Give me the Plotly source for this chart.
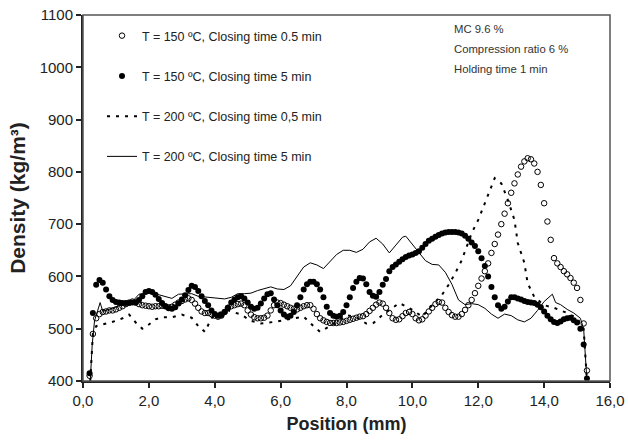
import numpy as np
import plotly.graph_objects as go

# ---- data ----
pos_grid = np.round(np.arange(0.2, 15.35, 0.1), 1)

dens_150_05 = [410, 490, 520, 528, 532, 533, 535, 535, 537, 540,
               543, 547, 550, 552, 550, 547, 545, 544, 543, 542,
               543, 543, 544, 543, 541, 542, 546, 550, 553, 556,
               558, 555, 548, 540, 533, 530, 530, 528, 525, 523,
               525, 532, 540, 543, 545, 547, 548, 545, 535, 527,
               522, 520, 520, 521, 525, 535, 545, 550, 549, 546,
               543, 540, 538, 537, 540, 543, 545, 545, 538, 528,
               520, 516, 513, 511, 511, 511, 512, 513, 515, 517,
               519, 521, 523, 524, 528, 534, 540, 546, 550, 548,
               540, 530, 520, 517, 518, 524, 530, 532, 528, 520,
               516, 518, 525, 533, 540, 547, 551, 550, 540, 532,
               526, 523, 523, 528, 536, 545, 555, 568, 582, 596,
               610, 625, 645, 662, 680, 700, 720, 740, 760, 778,
               795, 810, 820, 826, 824, 816, 800, 775, 740, 705,
               670, 635, 625, 618, 610, 604, 597, 588, 578, 555,
               510, 420]

dens_150_5 = [415, 530, 584, 593, 588, 575, 562, 555, 551, 550,
              549, 549, 549, 550, 550, 555, 562, 570, 572, 570,
              565, 557, 549, 543, 539, 538, 541, 548, 556, 564,
              574, 582, 580, 572, 562, 553, 545, 535, 528, 525,
              526, 532, 540, 550, 556, 560, 562, 558, 550, 542,
              538, 540, 548, 558, 566, 568, 556, 545, 535, 527,
              523, 525, 532, 545, 560, 575, 585, 590, 590, 585,
              575, 560, 542, 530, 525, 523, 525, 532, 545, 560,
              578, 590, 597, 596, 585, 570, 563, 561, 570, 584,
              595, 610, 618, 623, 628, 633, 637, 640, 642, 645,
              648, 655, 662, 668, 672, 676, 679, 682, 684, 685,
              685, 685, 684, 682, 678, 672, 665, 658, 648, 635,
              620, 600, 580, 560, 545, 538, 542, 552, 560, 560,
              558, 556, 553, 551, 550, 549, 546, 541, 533, 525,
              518, 513, 511, 514, 518, 520, 521, 516, 512, 500,
              470, 405]

pos_200_05 = [0.22, 0.3, 0.4, 0.6, 0.8, 1.0, 1.2, 1.4, 1.6, 1.8, 2.0, 2.2, 2.4,
              2.7, 3.0, 3.3, 3.5, 3.7, 3.9, 4.1, 4.4, 4.8, 5.1, 5.4, 5.8, 6.2,
              6.7, 7.0, 7.2, 7.5, 8.0, 8.3, 8.6, 8.8, 9.1, 9.4, 9.6, 9.9, 10.3,
              10.6, 10.9, 11.1, 11.3, 11.5, 11.8, 12.0, 12.2, 12.4, 12.5, 12.7,
              12.9, 13.1, 13.2, 13.4, 13.5, 13.7, 14.0, 14.3, 14.7, 15.0, 15.2,
              15.3]
dens_200_05 = [400, 490, 505, 508, 512, 515, 520, 527, 512, 500, 508, 518, 522,
               522, 527, 521, 505, 494, 520, 530, 535, 527, 515, 510, 513, 518,
               523, 505, 494, 505, 526, 522, 510, 510, 527, 540, 549, 540, 523,
               545, 565, 584, 606, 631, 683, 708, 740, 771, 788, 778,
               746, 708, 664, 626, 587, 561, 545, 540, 530, 520, 500,
               400]

pos_200_5 = [0.22, 0.28, 0.35, 0.45, 0.52, 0.6, 0.7, 0.9, 1.1, 1.3, 1.5, 1.7,
             1.9, 2.1, 2.3, 2.5, 2.7, 2.9, 3.1, 3.3, 3.5, 3.7, 3.9, 4.1, 4.3,
             4.5, 4.7, 4.9, 5.1, 5.3, 5.5, 5.7, 5.9, 6.1, 6.3, 6.5, 6.7, 6.9,
             7.1, 7.3, 7.5, 7.7, 7.9, 8.1, 8.3, 8.5, 8.7, 8.9, 9.1, 9.3, 9.5,
             9.7, 9.8, 10.0, 10.2, 10.4, 10.6, 10.8, 11.0, 11.2, 11.4, 11.6,
             11.8, 12.0, 12.2, 12.4, 12.6, 12.8, 13.0, 13.2, 13.4, 13.6, 13.8,
             14.0, 14.25, 14.35, 14.5, 14.7, 14.9, 15.1, 15.2, 15.25, 15.3]
dens_200_5 = [400, 470, 515, 535, 550, 533, 535, 540, 543, 547, 552, 566,
              568, 569, 565, 562, 558, 566, 566, 567, 562, 561, 560, 558, 557,
              560, 567, 567, 568, 573, 576, 580, 576, 575, 582, 600, 618, 626,
              622, 615, 628, 642, 650, 650, 646, 652, 666, 673, 662, 645, 660,
              675, 677, 662, 645, 630, 623, 622, 608, 585, 555, 546,
              548, 546, 539, 528, 520, 528, 525, 517, 513, 520, 535,
              552, 566, 550, 546, 537, 530, 520, 500, 455, 400]

x_tickvals = [0, 2, 4, 6, 8, 10, 12, 14, 16]
x_ticktext = ["0,0", "2,0", "4,0", "6,0", "8,0", "10,0", "12,0", "14,0", "16,0"]
y_tickvals = [400, 500, 600, 700, 800, 900, 1000, 1100]

names = ["T = 150 ºC, Closing time 0.5 min",
         "T = 150 ºC, Closing time 5 min",
         "T = 200 ºC, Closing time 0,5 min",
         "T = 200 ºC, Closing time 5 min"]
notes = ["MC 9.6 %", "Compression ratio 6 %", "Holding time 1 min"]

FONT = "Arial, Liberation Sans, sans-serif"

fig = go.Figure()
fig.add_trace(go.Scatter(x=pos_grid, y=dens_150_05, mode="markers", name=names[0],
                         legendgroup="a",
                         marker=dict(symbol="circle-open", size=5.5, color="black",
                                     line=dict(width=1, color="black"))))
fig.add_trace(go.Scatter(x=pos_grid, y=dens_150_5, mode="markers", name=names[1],
                         legendgroup="b",
                         marker=dict(symbol="circle", size=6, color="black")))
fig.add_trace(go.Scatter(x=pos_200_05, y=dens_200_05, mode="lines", name=names[2],
                         legendgroup="c",
                         line=dict(color="black", width=2, dash="3px,6px")))
fig.add_trace(go.Scatter(x=pos_200_5, y=dens_200_5, mode="lines", name=names[3],
                         legendgroup="d",
                         line=dict(color="black", width=1)))

for i, t in enumerate(notes):
    fig.add_annotation(x=(452 - 83) / 527, y=1 - (29 + 20 * i - 15) / 366,
                       xref="paper", yref="paper", xanchor="left", yanchor="middle",
                       text=t, showarrow=False,
                       font=dict(family=FONT, size=11.3, color="#333"))

# frame (top / right borders)
fig.add_shape(type="rect", xref="paper", yref="paper", x0=0, y0=0, x1=1, y1=1,
              line=dict(color="#555", width=1.5), layer="above")

fig.update_layout(
    width=628, height=444,
    margin=dict(l=83, r=18, t=15, b=63),
    paper_bgcolor="white", plot_bgcolor="white",
    font=dict(family=FONT, color="#222"),
    showlegend=True,
    legend=dict(x=(102 - 83) / 527, y=1 - (21 - 15) / 366, xanchor="left", yanchor="top",
                bgcolor="rgba(0,0,0,0)", font=dict(family=FONT, size=12.5, color="#222"),
                tracegroupgap=21, itemwidth=30),
    xaxis=dict(range=[0, 16], tickvals=x_tickvals, ticktext=x_ticktext, automargin=False,
               showgrid=False, zeroline=False, showline=True, linecolor="#222",
               linewidth=2, ticks="outside", ticklen=5, tickwidth=1.5, tickcolor="#222",
               tickfont=dict(size=15, family=FONT, color="#222"),
               title=dict(text="<b>Position (mm)</b>", font=dict(size=18, family=FONT, color="#222"),
                          standoff=9)),
    yaxis=dict(range=[400, 1100], tickvals=y_tickvals, automargin=False,
               showgrid=False, zeroline=False, showline=True, linecolor="#222",
               linewidth=2, ticks="outside", ticklen=5, tickwidth=1.5, tickcolor="#222",
               tickfont=dict(size=15, family=FONT, color="#222"),
               title=dict(text="<b>Density (kg/m³)</b>", font=dict(size=21, family=FONT, color="#222"),
                          standoff=8)),
)

fig.write_html("out.html")
